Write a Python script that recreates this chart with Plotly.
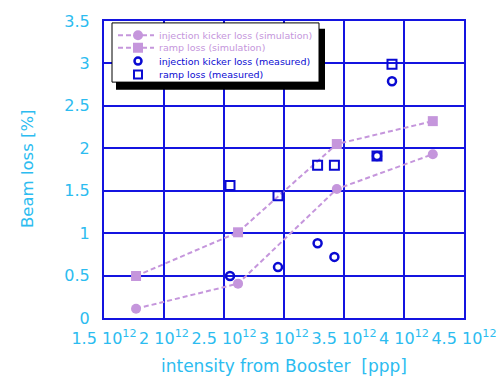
import plotly.graph_objects as go

# Booster intensity (units of 1e12 protons per pulse) and beam loss (%)
sim_intensity = [1.767, 2.617, 3.44, 4.24]
sim_kicker_loss = [0.11, 0.405, 1.52, 1.93]
sim_ramp_loss = [0.495, 1.01, 2.05, 2.32]

meas_intensity = [2.55, 2.95, 3.28, 3.42, 3.775, 3.90]
meas_kicker_loss = [0.495, 0.60, 0.88, 0.72, 1.91, 2.79]
meas_ramp_loss = [1.56, 1.44, 1.80, 1.80, 1.91, 2.99]

x_ticks = [1.5, 2.0, 2.5, 3.0, 3.5, 4.0, 4.5]
x_tick_labels = ["1.5 10<sup>12</sup>", "2 10<sup>12</sup>", "2.5 10<sup>12</sup>",
                 "3 10<sup>12</sup>", "3.5 10<sup>12</sup>", "4 10<sup>12</sup>",
                 "4.5 10<sup>12</sup>"]
y_ticks = [0, 0.5, 1, 1.5, 2, 2.5, 3, 3.5]
y_tick_labels = ["0", "0.5", "1", "1.5", "2", "2.5", "3", "3.5"]

series_names = ["injection kicker loss (simulation)", "ramp loss (simulation)",
                "injection kicker loss (measured)", "ramp loss (measured)"]

SIM = "#c596dc"
MEAS = "#0a0ad2"
GRID = "#1414e0"
TEXT = "#2cbcf0"
FONT = "DejaVu Sans, Verdana, sans-serif"
DASH = "5px,3px"

W, H = 499, 391
ML, MR, MT, MB = 104, 35, 16, 64
PW, PH = W - ML - MR, H - MT - MB


def px(xp):
    """Horizontal pixel -> paper fraction."""
    return (xp - ML) / PW


def py(yp):
    """Vertical pixel (from top) -> paper fraction."""
    return (H - MB - yp) / PH


fig = go.Figure()
fig.add_trace(go.Scatter(
    x=sim_intensity, y=sim_kicker_loss, mode="lines+markers", name=series_names[0],
    line=dict(color=SIM, width=2, dash=DASH),
    marker=dict(symbol="circle", size=10, color=SIM)))
fig.add_trace(go.Scatter(
    x=sim_intensity, y=sim_ramp_loss, mode="lines+markers", name=series_names[1],
    line=dict(color=SIM, width=2, dash=DASH),
    marker=dict(symbol="square", size=10, color=SIM)))
fig.add_trace(go.Scatter(
    x=meas_intensity, y=meas_kicker_loss, mode="markers", name=series_names[2],
    marker=dict(symbol="circle-open", size=8, color=MEAS, line=dict(width=2.5, color=MEAS))))
fig.add_trace(go.Scatter(
    x=meas_intensity, y=meas_ramp_loss, mode="markers", name=series_names[3],
    marker=dict(symbol="square-open", size=9, color=MEAS, line=dict(width=2, color=MEAS))))

# ---- boxed legend with a drop shadow ----
shapes = [
    dict(type="rect", xref="paper", yref="paper", x0=px(116), x1=px(325), y0=py(88), y1=py(24),
         fillcolor="black", line=dict(width=0), layer="above"),
    dict(type="rect", xref="paper", yref="paper", x0=px(112), x1=px(319), y0=py(80), y1=py(18),
         fillcolor="white", line=dict(color="black", width=1), layer="above"),
]
annotations = []
row_y = [31, 44, 58, 72]
row_color = [SIM, SIM, MEAS, MEAS]
glyph_x = 138
for i, (name, ry, col) in enumerate(zip(series_names, row_y, row_color)):
    if i < 2:
        shapes.append(dict(type="line", xref="paper", yref="paper",
                           x0=px(118), x1=px(154), y0=py(ry), y1=py(ry),
                           line=dict(color=SIM, width=2, dash=DASH), layer="above"))
    if i == 0:
        shapes.append(dict(type="circle", xref="paper", yref="paper", xsizemode="pixel",
                           ysizemode="pixel", xanchor=px(glyph_x), yanchor=py(ry),
                           x0=-5, x1=5, y0=-5, y1=5, fillcolor=SIM,
                           line=dict(width=0), layer="above"))
    elif i == 1:
        shapes.append(dict(type="rect", xref="paper", yref="paper", xsizemode="pixel",
                           ysizemode="pixel", xanchor=px(glyph_x), yanchor=py(ry),
                           x0=-5, x1=5, y0=-5, y1=5, fillcolor=SIM,
                           line=dict(width=0), layer="above"))
    elif i == 2:
        shapes.append(dict(type="circle", xref="paper", yref="paper", xsizemode="pixel",
                           ysizemode="pixel", xanchor=px(glyph_x), yanchor=py(ry),
                           x0=-3.5, x1=3.5, y0=-3.5, y1=3.5, fillcolor="rgba(0,0,0,0)",
                           line=dict(color=MEAS, width=2.5), layer="above"))
    else:
        shapes.append(dict(type="rect", xref="paper", yref="paper", xsizemode="pixel",
                           ysizemode="pixel", xanchor=px(glyph_x), yanchor=py(ry),
                           x0=-4, x1=4, y0=-4, y1=4, fillcolor="rgba(0,0,0,0)",
                           line=dict(color=MEAS, width=2), layer="above"))
    annotations.append(dict(text=name, xref="paper", yref="paper", x=px(157), y=py(ry),
                            xanchor="left", yanchor="middle", showarrow=False,
                            font=dict(size=9.5, family=FONT, color=col)))

# axis titles
annotations.append(dict(text="intensity from Booster  [ppp]", xref="paper", yref="paper",
                        x=px(284), y=py(377), xanchor="center", yanchor="middle",
                        showarrow=False, font=dict(size=17, family=FONT, color=TEXT)))
annotations.append(dict(text="Beam loss [%]", xref="paper", yref="paper",
                        x=px(27), y=py(171), xanchor="center", yanchor="middle",
                        textangle=-90, showarrow=False,
                        font=dict(size=16.5, family=FONT, color=TEXT)))

axis_common = dict(
    showgrid=True, gridcolor=GRID, gridwidth=2,
    showline=True, linecolor=GRID, linewidth=2, mirror=True,
    zeroline=False, ticks="", tickfont=dict(color=TEXT, size=16, family=FONT),
)

fig.update_xaxes(range=[1.5, 4.5], tickvals=x_ticks, ticktext=x_tick_labels,
                 ticklabelstandoff=5, **axis_common)
fig.update_yaxes(range=[0, 3.5], tickvals=y_ticks, ticktext=y_tick_labels,
                 ticklabelstandoff=9, **axis_common)

fig.update_layout(
    width=W, height=H,
    margin=dict(l=ML, r=MR, t=MT, b=MB),
    plot_bgcolor="white", paper_bgcolor="white",
    showlegend=False,
    shapes=shapes,
    annotations=annotations,
)

fig.write_html("out.html")
